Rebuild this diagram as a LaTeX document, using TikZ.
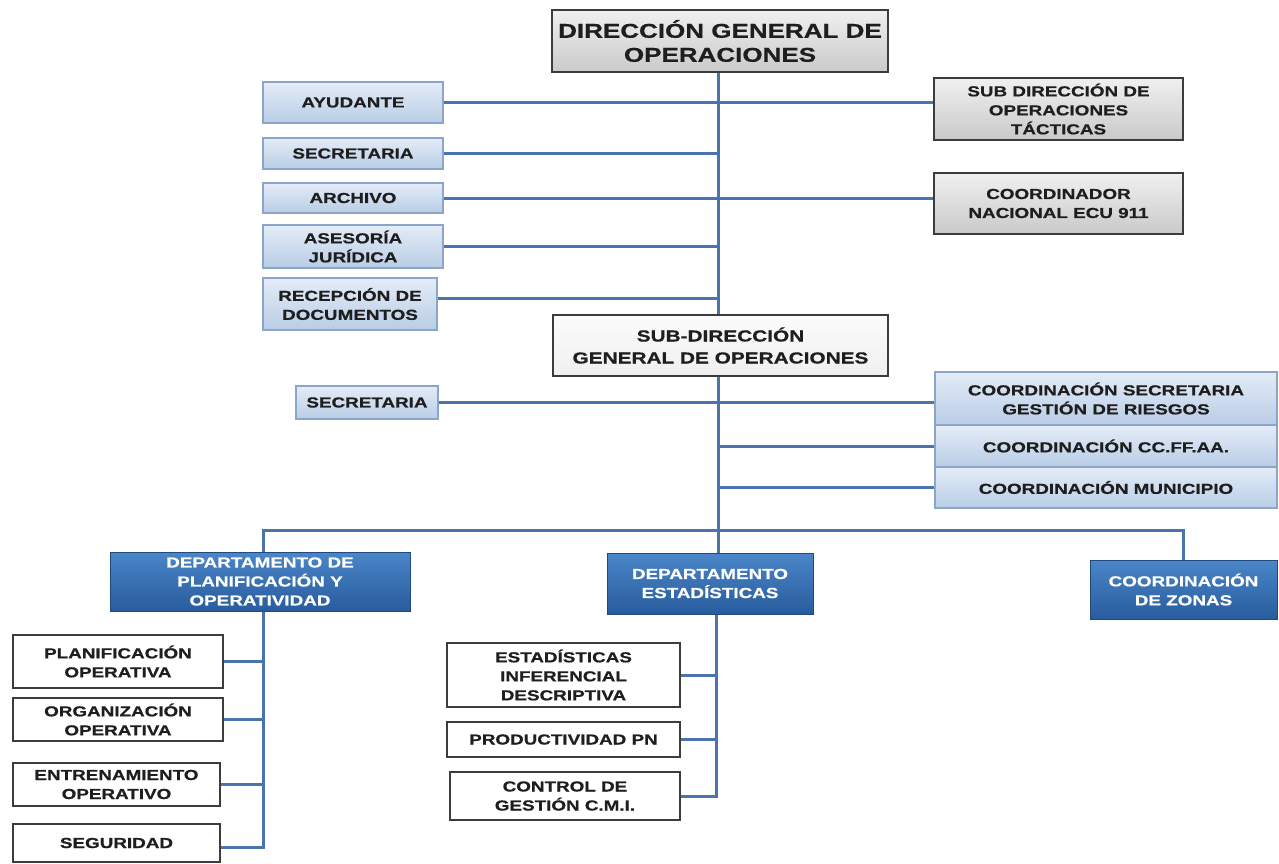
\documentclass[tikz,border=0pt]{standalone}
\usepackage{fontspec}
\setmainfont{Liberation Sans}[FakeStretch=1.3, BoldFeatures={FakeBold=0.6}]
\usetikzlibrary{calc,backgrounds}

\definecolor{lineblue}{HTML}{4A74AD}
\definecolor{boxedge}{HTML}{3C3C3C}
\definecolor{lbtop}{HTML}{E4ECF7}
\definecolor{lbbot}{HTML}{B9CDE6}
\definecolor{lbedge}{HTML}{8CA6CB}
\definecolor{dbtop}{HTML}{4A86C8}
\definecolor{dbbot}{HTML}{285C9E}
\definecolor{txt}{HTML}{1E1E1E}

\tikzset{
  base/.style={rectangle, inner sep=0pt, align=center, font=\bfseries\fontsize{14.5}{19}\selectfont, text=txt},
  graybox/.style={base, draw=boxedge, line width=2pt, top color=gray!12, bottom color=gray!42},
  paleBox/.style={base, draw=boxedge, line width=2pt, top color=gray!3, bottom color=gray!12},
  lightblue/.style={base, draw=lbedge, line width=1.5pt, top color=lbtop, bottom color=lbbot},
  deptbox/.style={base, draw=dbbot!80!black, line width=1pt, top color=dbtop, bottom color=dbbot, text=white},
  plainbox/.style={base, draw=boxedge, line width=2pt, fill=white},
  link/.style={draw=lineblue, line width=3pt}
}

\begin{document}
\begin{tikzpicture}[x=1pt, y=-1pt]
\useasboundingbox (0,0) rectangle (1279,864);

% vertical trunks and the horizontal distribution bar
\coordinate (sp) at (718,0);
\coordinate (sq) at (716,0);
\coordinate (lx) at (263,0);
\coordinate (bar) at (0,530);

% top level
\node[graybox, minimum width=336, minimum height=62, font=\bfseries\fontsize{20}{24}\selectfont] (dgo) at (720,41) {DIRECCIÓN GENERAL DE\\OPERACIONES};

% staff units on the left
\node[lightblue, minimum width=180, minimum height=41] (ayu) at (353,102.5) {AYUDANTE};
\node[lightblue, minimum width=180, minimum height=31] (sec1) at (353,153.5) {SECRETARIA};
\node[lightblue, minimum width=180, minimum height=30] (arch) at (353,198) {ARCHIVO};
\node[lightblue, minimum width=180, minimum height=43] (ases) at (353,246.5) {ASESORÍA\\JURÍDICA};
\node[lightblue, minimum width=174, minimum height=52] (recep) at (350,304) {RECEPCIÓN DE\\DOCUMENTOS};

% units on the right
\node[graybox, minimum width=249, minimum height=62] (sdt) at (1058.5,109) {SUB DIRECCIÓN DE\\OPERACIONES\\TÁCTICAS};
\node[graybox, minimum width=249, minimum height=61] (c911) at (1058.5,203.5) {COORDINADOR\\NACIONAL ECU 911};

% second level
\node[paleBox, minimum width=335, minimum height=61, font=\bfseries\fontsize{16}{22}\selectfont] (sdg) at (720.5,345.5) {SUB-DIRECCIÓN\\GENERAL DE OPERACIONES};

\node[lightblue, minimum width=142, minimum height=33] (sec2) at (367,402.5) {SECRETARIA};
\node[lightblue, minimum width=342, minimum height=53] (crg) at (1106,398.5) {COORDINACIÓN SECRETARIA\\GESTIÓN DE RIESGOS};
\node[lightblue, minimum width=342, minimum height=42] (ccff) at (1106,446) {COORDINACIÓN CC.FF.AA.};
\node[lightblue, minimum width=342, minimum height=41] (cmun) at (1106,487.5) {COORDINACIÓN MUNICIPIO};

% departments
\node[deptbox, minimum width=300, minimum height=59] (dplan) at (260,581.5) {DEPARTAMENTO DE\\PLANIFICACIÓN Y\\OPERATIVIDAD};
\node[deptbox, minimum width=206, minimum height=61] (dest) at (710,583.5) {DEPARTAMENTO\\ESTADÍSTICAS};
\node[deptbox, minimum width=187, minimum height=59] (czon) at (1183.5,589.5) {COORDINACIÓN\\DE ZONAS};

% planning sections
\node[plainbox, minimum width=210, minimum height=53] (plan) at (118,661.5) {PLANIFICACIÓN\\OPERATIVA};
\node[plainbox, minimum width=210, minimum height=43] (org) at (118,719.5) {ORGANIZACIÓN\\OPERATIVA};
\node[plainbox, minimum width=207, minimum height=43] (ent) at (116.5,784.5) {ENTRENAMIENTO\\OPERATIVO};
\node[plainbox, minimum width=207, minimum height=38] (seg) at (116.5,843) {SEGURIDAD};

% statistics sections
\node[plainbox, minimum width=233, minimum height=64] (esti) at (563.5,675) {ESTADÍSTICAS\\INFERENCIAL\\DESCRIPTIVA};
\node[plainbox, minimum width=233, minimum height=35] (prod) at (563.5,739.5) {PRODUCTIVIDAD PN};
\node[plainbox, minimum width=230, minimum height=48] (ctrl) at (565,796) {CONTROL DE\\GESTIÓN C.M.I.};

% ---- connectors, kept behind the boxes ----
\begin{scope}[on background layer]
\coordinate (rc) at ($(recep.east)+(0,-6)$);
\coordinate (sgc) at ($(seg.east)+(0,4)$);

\draw[link] (dgo.south -| sp) -- (sdg.north -| sp);
\draw[link] (ayu.east) -- (sdt.west |- ayu.east);
\draw[link] (sec1.east) -- (sp |- sec1.east);
\draw[link] (arch.east) -- (c911.west |- arch.east);
\draw[link] (ases.east) -- (sp |- ases.east);
\draw[link] (rc) -- (sp |- rc);

\draw[link] (sdg.south -| sp) -- (dest.north -| sp);
\draw[link] (sec2.east) -- (crg.west |- sec2.east);
\draw[link] (sp |- ccff.west) -- (ccff.west);
\draw[link] (sp |- cmun.west) -- (cmun.west);

\draw[link] (dplan.north -| lx) -- (lx |- bar) -- (czon.north |- bar) -- (czon.north);

\draw[link] (dplan.south -| lx) -- (lx |- sgc) -- (sgc);
\draw[link] (lx |- plan.east) -- (plan.east);
\draw[link] (lx |- org.east) -- (org.east);
\draw[link] (lx |- ent.east) -- (ent.east);

\draw[link] (dest.south -| sq) -- (sq |- ctrl.east) -- (ctrl.east);
\draw[link] (sq |- esti.east) -- (esti.east);
\draw[link] (sq |- prod.east) -- (prod.east);
\end{scope}
\end{tikzpicture}
\end{document}
